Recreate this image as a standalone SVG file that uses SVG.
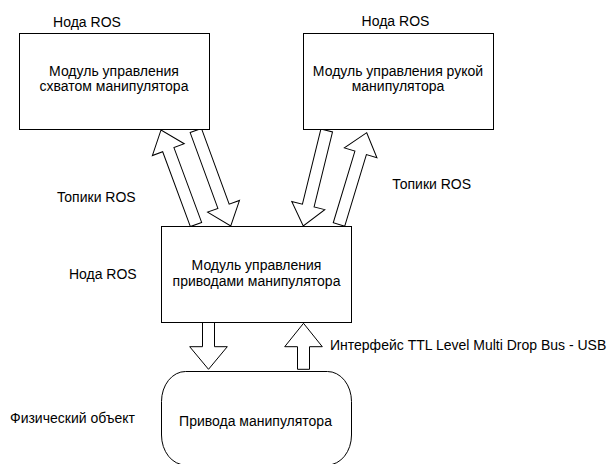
<svg xmlns="http://www.w3.org/2000/svg" width="611" height="464" viewBox="0 0 611 464">
<style>
.box{fill:#fff;stroke:#000;stroke-width:1}
.arr{fill:#fff;stroke:#000;stroke-width:1;stroke-linejoin:miter}
text{font-family:"Liberation Sans",Arial,sans-serif;font-size:14px;fill:#000}
.c{text-anchor:middle}
</style>
<rect width="611" height="464" fill="#fff"/>
<g id="connectors">
<polygon class="arr" transform="translate(196,224.5) rotate(159.7)" points="-6,0 6,0 6,79.8 17,79.8 0,100.8 -17,79.8 -6,79.8"/>
<polygon class="arr" transform="translate(195.8,130.5) rotate(-20.1)" points="-6,0 6,0 6,80.7 17,80.7 0,101.7 -17,80.7 -6,80.7"/>
<polygon class="arr" transform="translate(326.7,130.5) rotate(13.8)" points="-6,0 6,0 6,77.3 17,77.3 0,98.3 -17,77.3 -6,77.3"/>
<polygon class="arr" transform="translate(339,224.5) rotate(-163.2)" points="-6,0 6,0 6,74.9 17,74.9 0,95.9 -17,74.9 -6,74.9"/>
<polygon class="arr" points="202.5,322.5 214.5,322.5 214.5,346.7 227.3,346.7 208.5,369.3 189.7,346.7 202.5,346.7"/>
<polygon class="arr" points="297.5,369.3 309.5,369.3 309.5,346.7 322.3,346.7 303.5,323.3 284.7,346.7 297.5,346.7"/>
</g>
<g id="node-gripper">
<rect class="box" x="19.5" y="33.5" width="190" height="96"/>
<text class="c" x="87" y="26.5">Нода ROS</text>
<text class="c" x="114" y="75.5">Модуль управления</text>
<text class="c" x="114" y="91">схватом манипулятора</text>
</g>
<g id="node-arm">
<rect class="box" x="303.5" y="33.5" width="190" height="96"/>
<text class="c" x="395.5" y="25.5">Нода ROS</text>
<text class="c" x="398" y="75.5">Модуль управления рукой</text>
<text class="c" x="398" y="91">манипулятора</text>
</g>
<g id="node-drives-ctrl">
<rect class="box" x="161.5" y="226.5" width="190" height="96"/>
<text class="c" x="256.5" y="270">Модуль управления</text>
<text class="c" x="256.5" y="285.7">приводами манипулятора</text>
</g>
<g id="node-drives">
<rect class="box" x="161.5" y="371.5" width="190" height="93.5" rx="24" ry="30"/>
<text class="c" x="255.5" y="425.7">Привода манипулятора</text>
</g>
<g id="labels">
<text class="c" x="96.3" y="201.5">Топики ROS</text>
<text class="c" x="431.7" y="189">Топики ROS</text>
<text class="c" x="102.8" y="279">Нода ROS</text>
<text class="c" x="72.5" y="423.3">Физический объект</text>
<text x="330" y="350">Интерфейс TTL Level Multi Drop Bus - USB</text>
</g>
</svg>
